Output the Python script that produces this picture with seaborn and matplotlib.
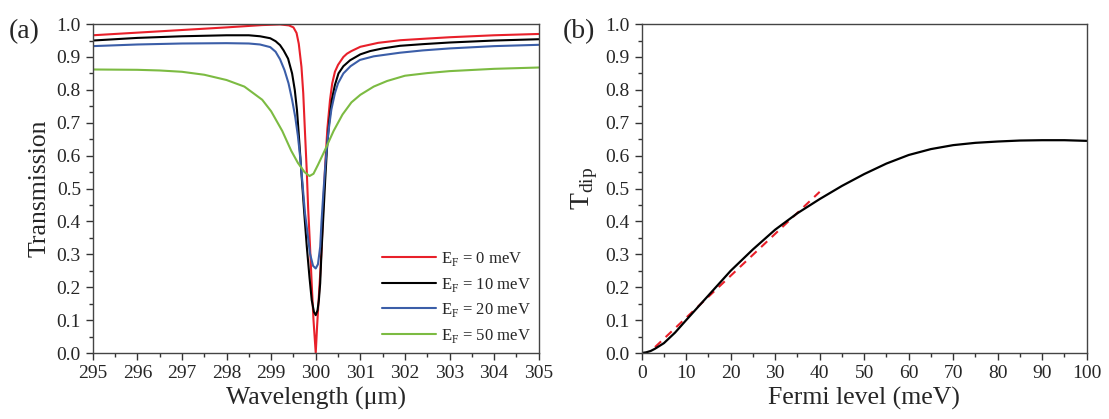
import matplotlib
matplotlib.use("Agg")
import matplotlib.pyplot as plt
import seaborn as sns
from matplotlib.ticker import MultipleLocator, FormatStrFormatter

# panel (a): transmission spectra, one list per Fermi level
wl_0 = [295, 296, 297, 298, 298.8, 299.2, 299.4, 299.5, 299.57, 299.62, 299.68, 299.72, 299.76, 299.8,
        299.83, 299.87, 299.91, 299.95, 300.0, 300.03, 300.06, 300.1, 300.13, 300.17, 300.21, 300.26,
        300.32, 300.37, 300.43, 300.5, 300.62, 300.7, 300.8, 301.0, 301.4, 301.9, 302.5, 303, 304, 305]
tr_0 = [0.966, 0.974, 0.982, 0.990, 0.997, 0.999, 0.996, 0.99, 0.973, 0.94, 0.87, 0.79, 0.668, 0.55,
        0.44, 0.33, 0.21, 0.10, 0.0, 0.08, 0.15, 0.24, 0.313, 0.45, 0.566, 0.68,
        0.769, 0.82, 0.855, 0.876, 0.90, 0.91, 0.918, 0.931, 0.943, 0.951, 0.956, 0.960, 0.966, 0.970]

wl_10 = [295, 296, 297, 298, 298.5, 298.75, 298.98, 299.1, 299.2, 299.28, 299.38, 299.47, 299.53, 299.58,
         299.63, 299.68, 299.74, 299.8, 299.86, 299.91, 299.96, 300.0, 300.04, 300.07, 300.1, 300.13,
         300.17, 300.21, 300.25, 300.3, 300.36, 300.43, 300.51, 300.62, 300.77, 301.0, 301.22, 301.5,
         301.89, 302.4, 303, 304, 305]
tr_10 = [0.950, 0.958, 0.963, 0.966, 0.966, 0.963, 0.957, 0.948, 0.936, 0.92, 0.895, 0.85, 0.80, 0.738,
         0.645, 0.546, 0.43, 0.323, 0.23, 0.161, 0.125, 0.115, 0.13, 0.16, 0.212, 0.31,
         0.414, 0.52, 0.617, 0.70, 0.769, 0.815, 0.85, 0.872, 0.89, 0.908, 0.918, 0.926,
         0.934, 0.939, 0.944, 0.950, 0.954]

wl_20 = [295, 296, 297, 298, 298.5, 298.75, 298.98, 299.1, 299.2, 299.3, 299.39, 299.47, 299.54, 299.6,
         299.65, 299.7, 299.76, 299.82, 299.87, 299.94, 300.0, 300.05, 300.1, 300.13, 300.17, 300.22,
         300.28, 300.35, 300.43, 300.5, 300.62, 300.78, 300.99, 301.3, 301.89, 302.4, 303, 304, 305]
tr_20 = [0.933, 0.938, 0.941, 0.942, 0.941, 0.938, 0.93, 0.916, 0.893, 0.86, 0.82, 0.77, 0.718, 0.66,
         0.597, 0.52, 0.424, 0.36, 0.303, 0.265, 0.257, 0.27, 0.323, 0.40, 0.485, 0.58,
         0.668, 0.74, 0.79, 0.82, 0.85, 0.872, 0.891, 0.902, 0.913, 0.92, 0.926, 0.933, 0.937]

wl_50 = [295, 296, 296.5, 297, 297.5, 298, 298.4, 298.8, 299.0, 299.25, 299.45, 299.6, 299.75, 299.86,
         299.95, 300.05, 300.2, 300.4, 300.6, 300.8, 301.0, 301.3, 301.6, 302, 302.5, 303, 304, 305]
tr_50 = [0.862, 0.861, 0.859, 0.855, 0.846, 0.83, 0.81, 0.77, 0.735, 0.675, 0.615, 0.578, 0.55, 0.538,
         0.545, 0.572, 0.615, 0.675, 0.725, 0.762, 0.785, 0.81, 0.827, 0.843, 0.851, 0.857, 0.864, 0.868]

# panel (b): dip transmission vs Fermi level, plus linear fit
fermi = [0, 1, 2, 3, 5, 7.5, 10, 15, 20, 25, 30, 35, 40, 45, 50, 55, 60, 65, 70, 75, 80, 85, 90, 95, 100]
t_dip = [0, 0.002, 0.006, 0.013, 0.03, 0.062, 0.10, 0.175, 0.25, 0.315, 0.375, 0.425, 0.468, 0.508,
         0.544, 0.576, 0.602, 0.62, 0.632, 0.639, 0.643, 0.646, 0.647, 0.647, 0.645]
fit_x = [3, 40]
fit_y = [0.018, 0.49]

series = [
    (wl_0, tr_0, "#e8202a", r"E$_\mathregular{F}$ = 0 meV"),
    (wl_10, tr_10, "#000000", r"E$_\mathregular{F}$ = 10 meV"),
    (wl_20, tr_20, "#3b5ea8", r"E$_\mathregular{F}$ = 20 meV"),
    (wl_50, tr_50, "#7cbb42", r"E$_\mathregular{F}$ = 50 meV"),
]

sns.set_style("ticks")
plt.rcParams["font.family"] = ["Liberation Serif", "DejaVu Serif"]
plt.rcParams["mathtext.fontset"] = "custom"
plt.rcParams["mathtext.rm"] = "Liberation Serif"

fig = plt.figure(figsize=(11.09, 4.19), dpi=100)
ax1 = fig.add_axes([0.0836, 0.1575, 0.4022, 0.785])
ax2 = fig.add_axes([0.5786, 0.1575, 0.4013, 0.785])

for x, y, c, lab in series:
    sns.lineplot(x=x, y=y, ax=ax1, color=c, linewidth=1.5, label=lab)

sns.lineplot(x=fit_x, y=fit_y, ax=ax2, color="#e8202a", linewidth=1.5, linestyle=(0, (4, 3)))
sns.lineplot(x=fermi, y=t_dip, ax=ax2, color="black", linewidth=1.6)

ax1.set_xlim(295, 305)
ax1.xaxis.set_major_locator(MultipleLocator(1))
ax1.xaxis.set_minor_locator(MultipleLocator(0.5))
ax1.set_xlabel("Wavelength (μm)", fontsize=18.5)
ax1.set_ylabel("Transmission", fontsize=18.5)

ax2.set_xlim(0, 100)
ax2.xaxis.set_major_locator(MultipleLocator(10))
ax2.xaxis.set_minor_locator(MultipleLocator(5))
ax2.set_xlabel("Fermi level (meV)", fontsize=18.5)
ax2.set_ylabel(r"T$_\mathregular{dip}$", fontsize=20)

for ax in (ax1, ax2):
    ax.set_ylim(0, 1.0)
    ax.yaxis.set_major_locator(MultipleLocator(0.1))
    ax.yaxis.set_minor_locator(MultipleLocator(0.05))
    ax.yaxis.set_major_formatter(FormatStrFormatter("%.1f"))
    ax.tick_params(which="major", direction="out", length=5, width=1, labelsize=14, color="#333333")
    ax.tick_params(which="minor", direction="out", length=3, width=1, color="#333333")
    for s in ax.spines.values():
        s.set_visible(True)
        s.set_color("#444444")
        s.set_linewidth(1.0)

ax1.legend(loc="lower right", frameon=False, fontsize=12, handlelength=3.2,
           handletextpad=0.3, labelspacing=0.45, borderaxespad=0.1)

fig.text(0.008, 0.91, "(a)", fontsize=20)
fig.text(0.507, 0.91, "(b)", fontsize=20)

fig.savefig("out.png", dpi=100)
